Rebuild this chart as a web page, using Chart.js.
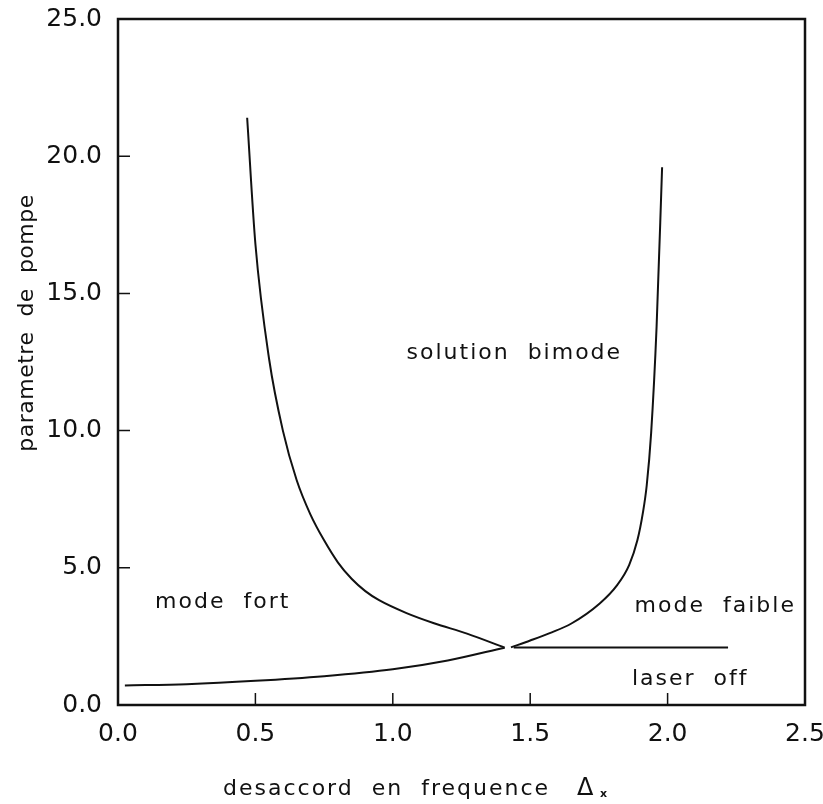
<!DOCTYPE html>
<html>
<head>
<meta charset="utf-8">
<script src="https://cdn.jsdelivr.net/npm/chart.js@4.4.1/dist/chart.umd.min.js"></script>
<style>
  html, body { margin: 0; padding: 0; background: #fff; }
  #wrap { width: 823px; height: 804px; }
</style>
</head>
<body>
<div id="wrap"><canvas id="phaseChart" width="823" height="804"></canvas></div>
<script>
// boundary curves (x = detuning, y = pump parameter)
const lowerX = [0.025, 0.25, 0.5, 0.75, 1.0, 1.2, 1.407];
const lowerY = [0.71, 0.76, 0.88, 1.05, 1.30, 1.62, 2.09];

const strongX = [0.47, 0.5, 0.55, 0.6, 0.65, 0.7, 0.75, 0.8, 0.85, 0.9, 0.95, 1.05, 1.15, 1.27, 1.407];
const strongY = [21.4, 16.8, 12.6, 10.0, 8.2, 6.95, 6.0, 5.2, 4.6, 4.15, 3.82, 3.35, 2.98, 2.6, 2.09];

const weakX = [1.43, 1.5, 1.571, 1.65, 1.753, 1.815, 1.86, 1.89, 1.91, 1.924, 1.94, 1.96, 1.98];
const weakY = [2.1, 2.35, 2.62, 2.97, 3.7, 4.35, 5.1, 6.0, 7.0, 8.0, 9.9, 13.8, 19.6];

const offX = [1.44, 2.22];
const offY = [2.1, 2.1];

const xTicks = [0.0, 0.5, 1.0, 1.5, 2.0, 2.5];
const yTicks = [0.0, 5.0, 10.0, 15.0, 20.0, 25.0];

// region names and where they sit (data coords, left edge / vertical centre)
const regionText = ["solution  bimode", "mode  fort", "mode  faible", "laser  off"];
const regionX = [1.05, 0.135, 1.88, 1.87];
const regionY = [12.8, 3.73, 3.6, 0.93];

const xTitle = "desaccord  en  frequence";
const yTitle = "parametre  de  pompe";

function toPoints(xs, ys){
    var pts = [];
    for(let i = 0; i < xs.length; i++){
        pts.push({x: xs[i], y: ys[i]});
    }
    return pts;
}

const ink = "#111";
const lineStyle = {
    borderColor: ink,
    borderWidth: 2,
    pointRadius: 0,
    fill: false,
    cubicInterpolationMode: 'monotone'
};

// frame, inward ticks, region labels and axis titles
const decorations = {
    id: 'decorations',
    afterDraw(chart){
        const ctx = chart.ctx;
        const area = chart.chartArea;
        const xs = chart.scales.x, ys = chart.scales.y;
        ctx.save();
        ctx.strokeStyle = ink;
        ctx.lineWidth = 2.5;
        ctx.strokeRect(area.left, area.top, area.right - area.left, area.bottom - area.top);

        ctx.lineWidth = 1.5;
        ctx.beginPath();
        for(let i = 1; i < xTicks.length - 1; i++){
            let px = xs.getPixelForValue(xTicks[i]);
            ctx.moveTo(px, area.bottom);
            ctx.lineTo(px, area.bottom - 12);
        }
        for(let i = 1; i < yTicks.length - 1; i++){
            let py = ys.getPixelForValue(yTicks[i]);
            ctx.moveTo(area.left, py);
            ctx.lineTo(area.left + 12, py);
        }
        ctx.stroke();

        ctx.fillStyle = ink;
        ctx.font = "22px 'DejaVu Sans'";
        ctx.letterSpacing = "2px";
        ctx.textAlign = "left";
        ctx.textBaseline = "middle";
        for(let i = 0; i < regionText.length; i++){
            ctx.fillText(regionText[i], xs.getPixelForValue(regionX[i]), ys.getPixelForValue(regionY[i]));
        }

        // x title with the delta symbol
        ctx.textBaseline = "alphabetic";
        ctx.letterSpacing = "2px";
        ctx.fillText(xTitle, 223, 795);
        ctx.letterSpacing = "0px";
        ctx.font = "24px 'DejaVu Sans'";
        ctx.fillText("\u0394", 577, 795);
        ctx.font = "bold 11px 'DejaVu Sans'";
        ctx.fillText("x", 600, 797);

        // y title, rotated
        ctx.translate(33, 323);
        ctx.rotate(-Math.PI / 2);
        ctx.font = "22px 'DejaVu Sans'";
        ctx.letterSpacing = "0.5px";
        ctx.textAlign = "center";
        ctx.fillText(yTitle, 0, 0);
        ctx.restore();
    }
};

var config = {
    type: 'line',
    data: {
        datasets: [
            Object.assign({label: 'lower', data: toPoints(lowerX, lowerY)}, lineStyle),
            Object.assign({label: 'strong', data: toPoints(strongX, strongY)}, lineStyle),
            Object.assign({label: 'weak', data: toPoints(weakX, weakY)}, lineStyle),
            Object.assign({label: 'off', data: toPoints(offX, offY)}, lineStyle, {cubicInterpolationMode: 'default', tension: 0})
        ]
    },
    options: {
        responsive: false,
        animation: false,
        layout: { padding: { top: 19, right: 18, left: 0, bottom: 0 } },
        plugins: {
            legend: { display: false },
            tooltip: { enabled: false }
        },
        scales: {
            x: {
                type: 'linear',
                min: 0,
                max: 2.5,
                afterFit: function(scale){
                    scale.height = 99;
                    scale.paddingLeft = 0;
                    scale.paddingRight = 0;
                },
                afterBuildTicks: function(scale){ scale.ticks = xTicks.map(v => ({value: v})); },
                grid: { display: false, drawTicks: false },
                border: { display: false },
                ticks: {
                    color: ink,
                    padding: 14,
                    font: { family: 'DejaVu Sans', size: 25 },
                    callback: v => v.toFixed(1)
                }
            },
            y: {
                type: 'linear',
                min: 0,
                max: 25,
                afterFit: function(scale){
                    scale.width = 118;
                    scale.paddingTop = 0;
                    scale.paddingBottom = 0;
                },
                afterBuildTicks: function(scale){ scale.ticks = yTicks.map(v => ({value: v})); },
                grid: { display: false, drawTicks: false },
                border: { display: false },
                ticks: {
                    color: ink,
                    padding: 16,
                    font: { family: 'DejaVu Sans', size: 25 },
                    callback: v => v.toFixed(1)
                }
            }
        }
    },
    plugins: [decorations]
};

new Chart(document.getElementById('phaseChart'), config);
</script>
</body>
</html>
